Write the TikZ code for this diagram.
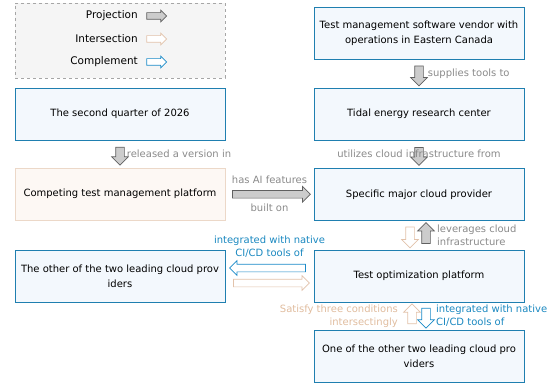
\documentclass[tikz,border=0pt]{standalone}
\usepackage{fontspec}
\setmainfont{DejaVu Sans}
\usetikzlibrary{shapes.arrows,calc}
\definecolor{boxblue}{HTML}{1F7FB0}
\definecolor{fillblue}{HTML}{F3F8FD}
\definecolor{boxpeach}{HTML}{ECD8C8}
\definecolor{fillpeach}{HTML}{FDF8F4}
\definecolor{arrgray}{HTML}{CCCCCC}
\definecolor{arrgraydraw}{HTML}{606060}
\definecolor{arrpeach}{HTML}{E2C2AA}
\definecolor{arrblue}{HTML}{1A8AC8}
\definecolor{lblgray}{HTML}{8A8A8A}
\definecolor{lblpeach}{HTML}{E0BC9E}
\definecolor{lblblue}{HTML}{1A88C0}
\tikzset{
  entity/.style={draw=boxblue, fill=fillblue, line width=0.8pt, minimum width=210pt, minimum height=52pt, align=center, font=\fontsize{10}{15}\selectfont, inner sep=2pt},
  peachbox/.style={entity, draw=boxpeach, fill=fillpeach},
  blk/.style={single arrow, inner sep=4pt, minimum width=0pt, single arrow head extend=4pt, single arrow head indent=0pt, line width=0.7pt},
  projarrow/.style={blk, draw=arrgraydraw, fill=arrgray},
  interarrow/.style={blk, draw=arrpeach, fill=white},
  comparrow/.style={blk, draw=arrblue, fill=white},
  lbl/.style={font=\fontsize{10}{13}\selectfont, text=lblgray, inner sep=1pt},
  legendlbl/.style={font=\fontsize{10.5}{12}\selectfont, anchor=east, inner sep=0pt},
  legarr/.style={inner sep=3pt, single arrow head extend=2.5pt, minimum height=20pt},
}
\begin{document}
\begin{tikzpicture}[x=1pt,y=-1pt]
\useasboundingbox (0,0) rectangle (556,385);
% legend
\node[draw=gray!70, dashed, fill=gray!8, line width=0.8pt, minimum width=210pt, minimum height=75pt, inner sep=0pt] (legend) at (120,40.5) {};
\node[legendlbl] (lp) at (138,16) {Projection};
\node[legendlbl] (li) at (138,39) {Intersection};
\node[legendlbl] (lc) at (138,62) {Complement};
\node[projarrow, legarr] (ap) at (155,16) {};
\node[interarrow, legarr] (ai) at (155,39) {};
\node[comparrow, legarr] (ac) at (155,62) {};
% boxes
\node[entity] (vendor) at (419,33.5) {Test management software vendor with\\operations in Eastern Canada};
\node[entity] (tidal) at (419,114) {Tidal energy research center};
\node[entity] (q2) at (120,114) {The second quarter of 2026};
\node[peachbox] (comp) at (120,194) {Competing test management platform};
\node[entity] (cloud) at (419,194.5) {Specific major cloud provider};
\node[entity] (other) at (120,276) {The other of the two leading cloud prov\\iders};
\node[entity] (topt) at (419,276) {Test optimization platform};
\node[entity] (one) at (419,356) {One of the other two leading cloud pro\\viders};
% vendor -> tidal
\node[projarrow, shape border rotate=270, minimum height=20pt] (e1) at ($(vendor.south)!0.5!(tidal.north)$) {};
\node[lbl, anchor=west] (e1l) at ([xshift=3pt]e1.east |- e1) {supplies tools to};
% q2 -> comp
\node[projarrow, shape border rotate=270, minimum height=18pt] (e2) at ($(q2.south)!0.5!(comp.north)$) {};
\node[lbl, anchor=west] (e2l) at ([xshift=1pt]e2.east |- e2) {released a version in};
% tidal -> cloud
\node[projarrow, shape border rotate=270, minimum height=18pt] (e3) at ($(tidal.south)!0.5!(cloud.north)$) {};
\node[lbl] (e3l) at (e3) {utilizes cloud infrastructure from};
% comp -> cloud
\node[projarrow, minimum height=78pt, inner sep=3.5pt] (e4) at ($(comp.east)!0.5!(cloud.west)$) {};
\node[lbl] (e4a) at ([yshift=14pt]e4.center) {has AI features};
\node[lbl] (e4b) at ([yshift=-14pt]e4.center) {built on};
% cloud <-> topt
\node[interarrow, shape border rotate=270, minimum height=21pt] (e5) at ($(cloud.south)!0.5!(topt.north)+(-9,0)$) {};
\node[projarrow, shape border rotate=90, minimum height=21pt] (e6) at ($(cloud.south)!0.5!(topt.north)+(7,0)$) {};
\node[lbl, anchor=west, align=left] (e6l) at ([xshift=10pt]e6.center) {leverages cloud\\infrastructure};
% topt <-> other
\node[comparrow, shape border rotate=180, minimum height=76pt, inner sep=3.5pt, single arrow head extend=3.5pt] (e7) at ($(other.east)!0.5!(topt.west)+(0,-8)$) {};
\node[interarrow, minimum height=76pt, inner sep=3.5pt, single arrow head extend=3.5pt] (e8) at ($(other.east)!0.5!(topt.west)+(0,7)$) {};
\node[lbl, text=lblblue, align=center] (e7l) at ([yshift=21pt]e7.center) {integrated with native\\CI/CD tools of};
% topt <-> one
\node[interarrow, shape border rotate=90, minimum height=20pt] (e9) at ($(topt.south)!0.5!(one.north)+(-7,0)$) {};
\node[comparrow, shape border rotate=270, minimum height=20pt] (e10) at ($(topt.south)!0.5!(one.north)+(7,0)$) {};
\node[lbl, text=lblpeach, anchor=east, align=right] (e9l) at ([xshift=-13pt]e9.center) {Satisfy three conditions\\intersectingly};
\node[lbl, text=lblblue, anchor=west, align=left] (e10l) at ([xshift=9pt]e10.center) {integrated with native\\CI/CD tools of};
\end{tikzpicture}
\end{document}
